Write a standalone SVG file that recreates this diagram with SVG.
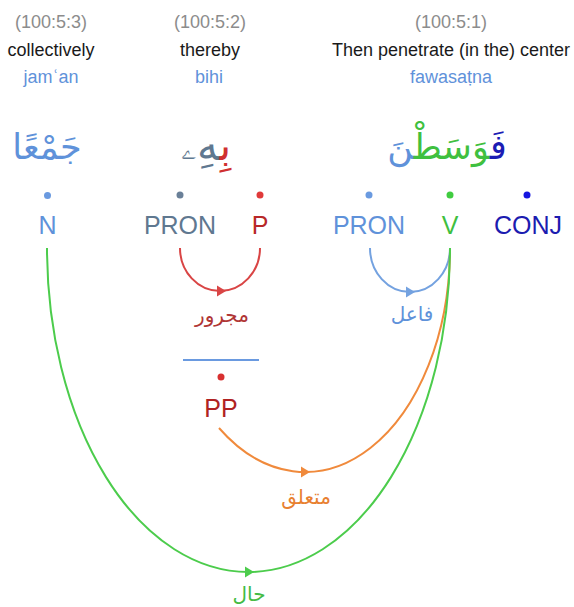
<svg xmlns="http://www.w3.org/2000/svg" width="574" height="607" viewBox="0 0 574 607">
<style>
text{font-family:"Liberation Sans",Arial,sans-serif;text-anchor:middle}
.loc{font-size:18px;fill:#8c8c8c}
.tr{font-size:18px;fill:#1a1a1a}
.tl{font-size:18px;fill:#5f92da}
.ar{font-family:"DejaVu Sans",sans-serif;font-size:35px;direction:rtl}
.pos{font-size:25px}
.rel{font-family:"DejaVu Sans",sans-serif;font-size:20px;direction:rtl}
.arc{fill:none;stroke-width:2}
</style>
<rect width="574" height="607" fill="#ffffff"/>
<g id="word3">
<text class="loc" x="51" y="28">(100:5:3)</text>
<text class="tr" x="51" y="56">collectively</text>
<text class="tl" x="51" y="83">jamʿan</text>
<text class="ar" x="47" y="159" fill="#5f92da">جَمْعًا</text>
</g>
<g id="word2">
<text class="loc" x="210" y="28">(100:5:2)</text>
<text class="tr" x="210" y="56">thereby</text>
<text class="tl" x="209" y="83">bihi</text>
<text class="ar" x="206" y="160" style="font-size:42px"><tspan fill="#d03030">بِ</tspan><tspan fill="#5f7890">هِۦ</tspan></text>
</g>
<g id="word1">
<text class="loc" x="451" y="28">(100:5:1)</text>
<text class="tr" x="451" y="56">Then penetrate (in the) center</text>
<text class="tl" x="451" y="83">fawasaṭna</text>
<text class="ar" x="447" y="159"><tspan fill="#1c1cb4">فَ</tspan><tspan fill="#3fc03f">وَسَطْ</tspan><tspan fill="#5f92da">نَ</tspan></text>
</g>
<g id="n-N">
<circle cx="47.5" cy="195.5" r="3.5" fill="#6a9ae0"/>
<text class="pos" x="47.5" y="234" fill="#5f92da">N</text>
</g>
<g id="n-PRON2">
<circle cx="180" cy="195" r="3.5" fill="#6a8098"/>
<text class="pos" x="180" y="234" fill="#5f7890">PRON</text>
</g>
<g id="n-P">
<circle cx="260" cy="195" r="3.5" fill="#e03a3a"/>
<text class="pos" x="260" y="234" fill="#b82828">P</text>
</g>
<g id="n-PRON1">
<circle cx="369" cy="195" r="3.5" fill="#6a9ae0"/>
<text class="pos" x="369" y="234" fill="#5f92da">PRON</text>
</g>
<g id="n-V">
<circle cx="450" cy="195" r="3.5" fill="#40cc40"/>
<text class="pos" x="450" y="234" fill="#3fbf3f">V</text>
</g>
<g id="n-CONJ">
<circle cx="527" cy="195" r="3.5" fill="#1515e0"/>
<text class="pos" x="528" y="234" fill="#1c1cb0">CONJ</text>
</g>
<g id="n-PP">
<line x1="183" y1="360" x2="259" y2="360" stroke="#6a9ae0" stroke-width="2"/>
<circle cx="221" cy="377" r="3.5" fill="#d83030"/>
<text class="pos" x="221" y="417" fill="#b02222">PP</text>
</g>
<g id="connectors">
<path class="arc" d="M180,248 A40,43 0 0 0 260,248" stroke="#d94545"/>
<path d="M217,285.5 L226,291 L217,296.5 Z" fill="#d94545"/>
<text class="rel" x="222" y="322" fill="#b03535">مجرور</text>
<path class="arc" d="M370,248 A40,44 0 0 0 450,248" stroke="#74a2e0"/>
<path d="M406,286.5 L415,292 L406,297.5 Z" fill="#74a2e0"/>
<text class="rel" x="412" y="321" fill="#5f92da">فاعل</text>
<path class="arc" d="M219,428 A144.8,224 0 0 0 450,248" stroke="#f08a3c"/>
<path d="M301,466.5 L310,472 L301,477.5 Z" fill="#f08a3c"/>
<text class="rel" x="306" y="504" fill="#e88030">متعلق</text>
<path class="arc" d="M47,248 A201.5,324 0 0 0 450,248" stroke="#4ccc4c"/>
<path d="M245,566.5 L254,572 L245,577.5 Z" fill="#4ccc4c"/>
<text class="rel" x="249" y="601" fill="#44bb44">حال</text>
</g>
</svg>
